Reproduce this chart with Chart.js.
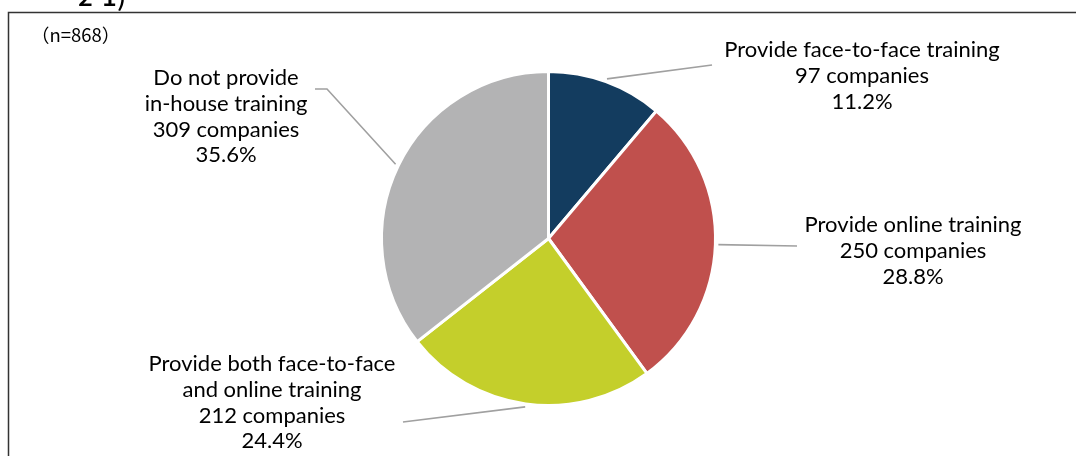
<!DOCTYPE html>
<html>
<head>
<meta charset="utf-8">
<script src="https://cdn.jsdelivr.net/npm/chart.js@4"></script>
<style>
  html, body { margin: 0; padding: 0; background: #fff; }
  #wrap { width: 1076px; height: 456px; }
</style>
</head>
<body>
<div id="wrap"><canvas id="pie" width="1076" height="456"></canvas></div>
<script>
// survey answers, n = 868
const categories = [
  ["Provide face-to-face training"],
  ["Provide online training"],
  ["Provide both face-to-face", "and online training"],
  ["Do not provide", "in-house training"]
];
const companies = [97, 250, 212, 309];
const sliceColors = ["#133c5f", "#c0504d", "#c4cf2b", "#b3b3b4"];
const sampleNote = "（n=868）";

const total = companies.reduce((a, b) => a + b, 0);

// label placement: text center x, first baseline, leader bend points
const labelSpots = [
  { x: 862, y: 57, leader: [[712, 65]] },
  { x: 913, y: 232, leader: [[797, 246]] },
  { x: 272, y: 371, leader: [[403, 422]] },
  { x: 226, y: 85, leader: [[327, 89], [315, 89]] }
];

const framePlugin = {
  id: "frame",
  beforeDraw(chart) {
    const ctx = chart.ctx;
    ctx.save();
    ctx.strokeStyle = "#333333";
    ctx.lineWidth = 1.5;
    ctx.beginPath();
    ctx.moveTo(8.5, 470);
    ctx.lineTo(8.5, 12.5);
    ctx.lineTo(1090, 12.5);
    ctx.stroke();

    // heading sits above the frame and is cut off by the page top
    ctx.fillStyle = "#000";
    ctx.font = "500 26px 'Noto Sans CJK JP'";
    ctx.textBaseline = "alphabetic";
    ctx.fillText("2-1)", 78, 6);

    ctx.font = "18.5px 'Noto Sans CJK JP'";
    ctx.fillText(sampleNote, 31, 42);
    ctx.restore();
  }
};

const calloutPlugin = {
  id: "callouts",
  afterDatasetsDraw(chart) {
    const ctx = chart.ctx;
    const arcs = chart.getDatasetMeta(0).data;
    ctx.save();
    arcs.forEach((arc, i) => {
      const spot = labelSpots[i];
      const mid = (arc.startAngle + arc.endAngle) / 2;
      const r = arc.outerRadius + 3;
      ctx.strokeStyle = "#a0a0a0";
      ctx.lineWidth = 1.6;
      ctx.beginPath();
      ctx.moveTo(arc.x + Math.cos(mid) * r, arc.y + Math.sin(mid) * r);
      spot.leader.forEach(p => ctx.lineTo(p[0], p[1]));
      ctx.stroke();

      const pct = (companies[i] / total * 100).toFixed(1) + "%";
      const lines = [...categories[i], companies[i] + " companies", pct];
      ctx.fillStyle = "#000";
      ctx.font = "22px Lato";
      ctx.textAlign = "center";
      ctx.textBaseline = "alphabetic";
      lines.forEach((t, k) => ctx.fillText(t, spot.x, spot.y + k * 25.8));
    });
    ctx.restore();
  }
};

new Chart(document.getElementById("pie"), {
  type: "pie",
  data: {
    labels: categories.map(c => c.join(" ")),
    datasets: [{
      data: companies,
      backgroundColor: sliceColors,
      borderColor: "#ffffff",
      borderWidth: 3
    }]
  },
  options: {
    responsive: false,
    animation: false,
    radius: 167,
    layout: { padding: { left: 21, right: 0, top: 21, bottom: 0 } },
    plugins: {
      legend: { display: false },
      tooltip: { enabled: false }
    }
  },
  plugins: [framePlugin, calloutPlugin]
});
</script>
</body>
</html>
